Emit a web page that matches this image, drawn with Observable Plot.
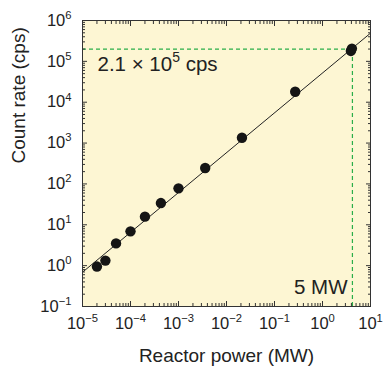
<!DOCTYPE html>
<html>
<head>
<meta charset="utf-8">
<script src="https://cdn.jsdelivr.net/npm/d3@7"></script>
<script src="https://cdn.jsdelivr.net/npm/@observablehq/plot@0.6"></script>
<style>
  html, body { margin: 0; padding: 0; background: #fff; }
</style>
</head>
<body>
<div id="chart"></div>
<script>
// Measured points: reactor power (MW) vs count rate (cps)
const power  = [2.0e-5, 3.0e-5, 5.0e-5, 1.0e-4, 2.0e-4, 4.3e-4, 1.0e-3, 3.6e-3, 2.1e-2, 0.27, 3.9, 4.1];
const counts = [0.95,   1.33,   3.5,    6.9,    15.8,   34,     78,     245,    1350,   1.8e4, 1.8e5, 2.05e5];

// Fitted line end points
const fitPower  = [1e-5, 10];
const fitCounts = [0.69, 4.9e5];

// Reference (green dashed) values
const refPower = 4.2;
const refCount = 2.0e5;

// Annotations and titles
const rateLabel  = "2.1 × 10^5 cps";
const powerLabel = "5 MW";
const xTitle = "Reactor power (MW)";
const yTitle = "Count rate (cps)";

// Tick values
const xTicks = [1e-5, 1e-4, 1e-3, 1e-2, 1e-1, 1e0, 1e1];
const yTicks = [1e-1, 1e0, 1e1, 1e2, 1e3, 1e4, 1e5, 1e6];

const minorOf = (majors) => majors.slice(0, -1).flatMap(m => [2,3,4,5,6,7,8,9].map(k => k * m));
const xMinor = minorOf(xTicks);
const yMinor = minorOf(yTicks);

const points = power.map((p, i) => ({p, c: counts[i]}));
const fit = fitPower.map((p, i) => ({p, c: fitCounts[i]}));

const fmt = d => "10^" + String(Math.round(Math.log10(d))).replace("-", "\u2212");

const bg = "#fdf6d3";
const green = "#2aae49";
const ink = "#333";

const chart = Plot.plot({
  width: 384,
  height: 367,
  marginLeft: 82,
  marginRight: 14,
  marginTop: 20,
  marginBottom: 61,
  style: {fontFamily: "'Liberation Sans', Arial, Helvetica, sans-serif", fontSize: "16px", color: "#222", background: "#fff"},
  x: {type: "log", domain: [1e-5, 10]},
  y: {type: "log", domain: [0.1, 1e6]},
  marks: [
    Plot.frame({fill: bg, stroke: null}),
    Plot.ruleY([refCount], {x1: 1e-5, x2: refPower, stroke: green, strokeWidth: 1.2, strokeDasharray: "4,3"}),
    Plot.ruleX([refPower], {y1: 0.1, y2: refCount, stroke: green, strokeWidth: 1.2, strokeDasharray: "4,3"}),
    Plot.line(fit, {x: "p", y: "c", stroke: "#222", strokeWidth: 1}),
    Plot.dot(points, {x: "p", y: "c", r: 5.2, fill: "#151515", stroke: "none"}),
    Plot.text([rateLabel], {frameAnchor: "top-left", dx: 15, dy: 44, textAnchor: "start", lineAnchor: "middle", fontSize: 20.5, fill: "#222"}),
    Plot.text([powerLabel], {frameAnchor: "bottom-right", dx: -23, dy: -19.5, textAnchor: "end", lineAnchor: "middle", fontSize: 20.5, fill: "#222"}),
    // major ticks, inward, all four sides
    Plot.axisX(xTicks, {anchor: "bottom", tickSize: -5, tickFormat: () => "", label: null, stroke: ink}),
    Plot.axisX(xTicks, {anchor: "top", tickSize: -5, tickFormat: () => "", label: null, stroke: ink}),
    Plot.axisY(yTicks, {anchor: "left", tickSize: -5, tickFormat: () => "", label: null, stroke: ink}),
    Plot.axisY(yTicks, {anchor: "right", tickSize: -5, tickFormat: () => "", label: null, stroke: ink}),
    // minor ticks
    Plot.axisX(xMinor, {anchor: "bottom", tickSize: -3, tickFormat: () => "", label: null, stroke: ink}),
    Plot.axisX(xMinor, {anchor: "top", tickSize: -3, tickFormat: () => "", label: null, stroke: ink}),
    Plot.axisY(yMinor, {anchor: "left", tickSize: -3, tickFormat: () => "", label: null, stroke: ink}),
    Plot.axisY(yMinor, {anchor: "right", tickSize: -3, tickFormat: () => "", label: null, stroke: ink}),
    // tick labels
    Plot.axisX(xTicks, {anchor: "bottom", tickSize: 0, tickPadding: 11, tickFormat: fmt, label: null, fontSize: 16.5, fill: "#222"}),
    Plot.axisY(yTicks, {anchor: "left", tickSize: 0, tickPadding: 11, tickFormat: fmt, label: null, fontSize: 16.5, fill: "#222"}),
    // titles
    Plot.text([xTitle], {frameAnchor: "bottom", dy: 49, lineAnchor: "middle", fontSize: 19, fill: "#222"}),
    Plot.text([yTitle], {frameAnchor: "left", dx: -64, dy: 0, rotate: -90, lineAnchor: "middle", fontSize: 19, fill: "#222"}),
    Plot.frame({stroke: ink, strokeWidth: 1})
  ]
});

// Turn "a^b rest" into real superscripts
chart.querySelectorAll("text").forEach(t => {
  const s = t.textContent;
  const i = s.indexOf("^");
  if (i < 0) return;
  const m = s.slice(i + 1).match(/^[\u22120-9\-]+/);
  const exp = m[0];
  const rest = s.slice(i + 1 + exp.length);
  while (t.firstChild) t.removeChild(t.firstChild);
  t.appendChild(document.createTextNode(s.slice(0, i)));
  const sup = document.createElementNS("http://www.w3.org/2000/svg", "tspan");
  sup.setAttribute("font-size", "0.68em");
  sup.setAttribute("dy", "-0.62em");
  sup.textContent = exp;
  t.appendChild(sup);
  if (rest) {
    const r = document.createElementNS("http://www.w3.org/2000/svg", "tspan");
    r.setAttribute("dy", "0.42em");
    r.textContent = rest;
    t.appendChild(r);
  }
});

document.getElementById("chart").appendChild(chart);
</script>
</body>
</html>
